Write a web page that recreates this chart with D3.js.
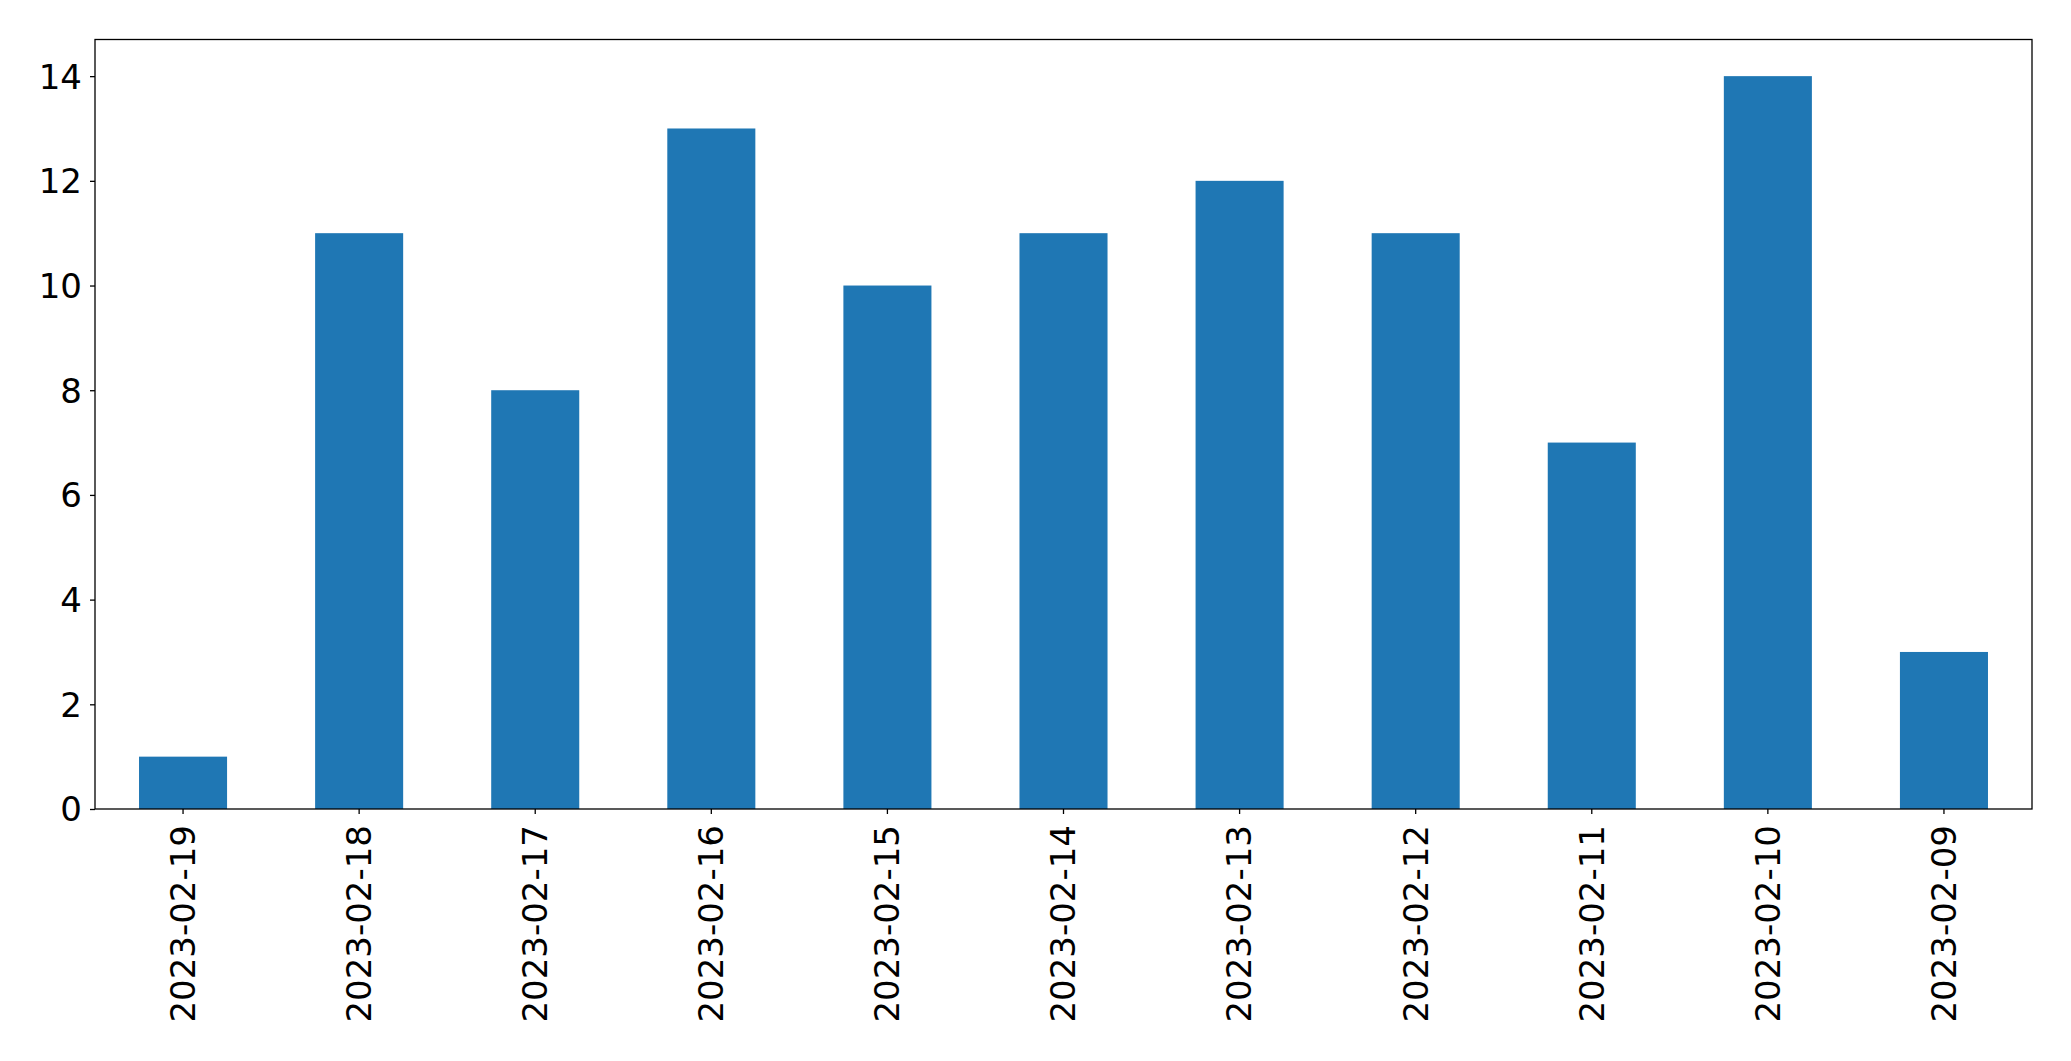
<!DOCTYPE html>
<html><head><meta charset="utf-8">
<script src="https://cdn.jsdelivr.net/npm/d3@7"></script>
<style>body{margin:0;background:#fff}svg{display:block}text{font-family:"DejaVu Sans",sans-serif;fill:#000}</style>
</head><body>
<svg id="c" width="2071" height="1061"></svg>
<script>
const categories = ["2023-02-19","2023-02-18","2023-02-17","2023-02-16","2023-02-15","2023-02-14","2023-02-13","2023-02-12","2023-02-11","2023-02-10","2023-02-09"];
const values = [1,11,8,13,10,11,12,11,7,14,3];
const yTicks = [0,2,4,6,8,10,12,14];

const L=95, R=2032, T=39.5, B=809;
const svg=d3.select("#c");
const x=d3.scaleBand().domain(categories).range([L,R]).paddingInner(0.5).paddingOuter(0.25);
const y=d3.scaleLinear().domain([0,14.7]).range([B,T]);

svg.append("g").selectAll("rect").data(values).join("rect")
  .attr("x",(d,i)=>x(categories[i])).attr("width",x.bandwidth())
  .attr("y",d=>y(d)).attr("height",d=>y(0)-y(d)).attr("fill","#1f77b4");

const ya=svg.append("g").attr("transform",`translate(${L},0)`)
  .call(d3.axisLeft(y).tickValues(yTicks).tickSize(5).tickPadding(8).tickFormat(d3.format("d")));
ya.select(".domain").remove();
ya.selectAll("line").attr("stroke","#000").attr("stroke-width",1.3);
ya.selectAll("text").attr("font-size",34).attr("font-family","DejaVu Sans").attr("dy","0.35em");

const xa=svg.append("g").attr("transform",`translate(0,${B})`)
  .call(d3.axisBottom(x).tickSize(5).tickPadding(0));
xa.select(".domain").remove();
xa.selectAll("line").attr("stroke","#000").attr("stroke-width",1.3);
xa.selectAll("text").attr("font-size",34).attr("font-family","DejaVu Sans")
  .attr("transform","rotate(-90)").attr("text-anchor","end")
  .attr("x",-16).attr("y",0).attr("dy","0.35em");

svg.append("rect").attr("x",L).attr("y",T).attr("width",R-L).attr("height",B-T)
  .attr("fill","none").attr("stroke","#000").attr("stroke-width",1.3);
</script>
</body></html>
